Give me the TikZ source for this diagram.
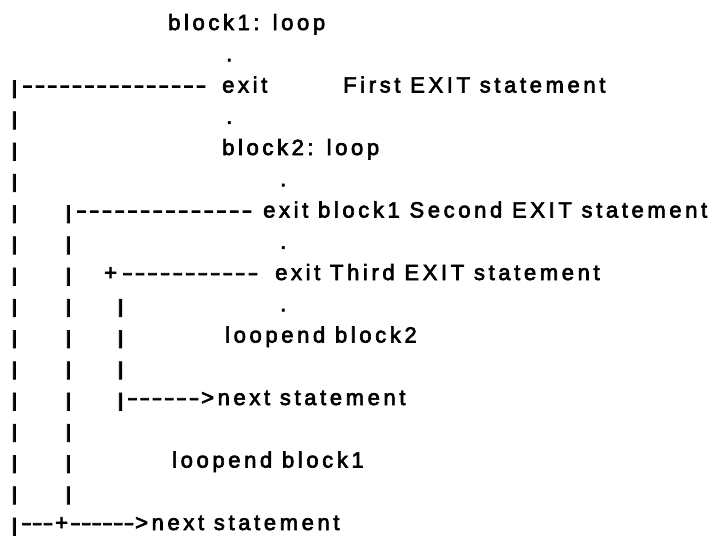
\documentclass[tikz,border=0pt]{standalone}
\usepackage{fontspec}
\usepackage{graphicx}
\newfontfamily\reffont[LetterSpace=16.5,FakeBold=3]{Liberation Sans}
\newcommand\vbar{\raisebox{-1.5pt}{\scalebox{1.3}[0.85]{|}}}
\newcommand\hy{\scalebox{1.45}[1]{-}}
\newcommand\dashrun[2]{\hbox to #2pt{\hy\foreach \k in {2,...,#1}{\hfil\hy}}}
\begin{document}
\begin{tikzpicture}[x=1pt,y=-1pt,
  txt/.style={anchor=base west, inner sep=0pt, font=\reffont\fontsize{22}{26}\selectfont}]
\useasboundingbox (0,0) rectangle (718,536);
\def\rowy#1{30+31.25*#1}
% row 0
\node[txt] (b1loop) at (168,{\rowy{0}}) {block1: loop};
\node[txt] (dot1) at (226,{\rowy{1}}) {.};
% row 2
\node[txt] (d2) at (22,{\rowy{2}}) {\dashrun{15}{184}};
\node[txt] (exit1) at (222,{\rowy{2}}) {exit};
\node[txt] (c1) at (343,{\rowy{2}}) {First EXIT statement};
\node[txt] (dot3) at (226,{\rowy{3}}) {.};
\node[txt] (b2loop) at (222,{\rowy{4}}) {block2: loop};
\node[txt] (dot5) at (280,{\rowy{5}}) {.};
% row 6
\node[txt] (d6) at (76,{\rowy{6}}) {\dashrun{14}{176}};
\node[txt] (exit2) at (263,{\rowy{6}}) {exit block1 Second EXIT statement};
\node[txt] (dot7) at (280,{\rowy{7}}) {.};
% row 8
\node[txt] (plus8) at (104,{\rowy{8}}) {+};
\node[txt] (d8) at (122,{\rowy{8}}) {\dashrun{11}{136}};
\node[txt] (exit3) at (275,{\rowy{8}}) {exit Third EXIT statement};
\node[txt] (dot9) at (280,{\rowy{9}}) {.};
\node[txt] (le2) at (225,{\rowy{10}}) {loopend block2};
% row 12
\node[txt] (d12) at (127,{\rowy{12}}) {\dashrun{6}{72}};
\node[txt] (next1) at (201,{\rowy{12}}) {>next statement};
\node[txt] (le1) at (172,{\rowy{14}}) {loopend block1};
% row 16
\node[txt] (d16a) at (21,{\rowy{16}}) {\dashrun{3}{32}};
\node[txt] (plus16) at (55,{\rowy{16}}) {+};
\node[txt] (d16b) at (70,{\rowy{16}}) {\dashrun{6}{64}};
\node[txt] (next2) at (135,{\rowy{16}}) {>next statement};
% vertical bars
\foreach \r in {2,...,16} \node[txt] (barA\r) at (10.5,{\rowy{\r}}) {\vbar};
\foreach \r in {6,7,9,10,11,12,13,14,15,8} \node[txt] (barB\r) at (64.5,{\rowy{\r}}) {\vbar};
\foreach \r in {9,10,11,12} \node[txt] (barC\r) at (116.5,{\rowy{\r}}) {\vbar};
\end{tikzpicture}
\end{document}
